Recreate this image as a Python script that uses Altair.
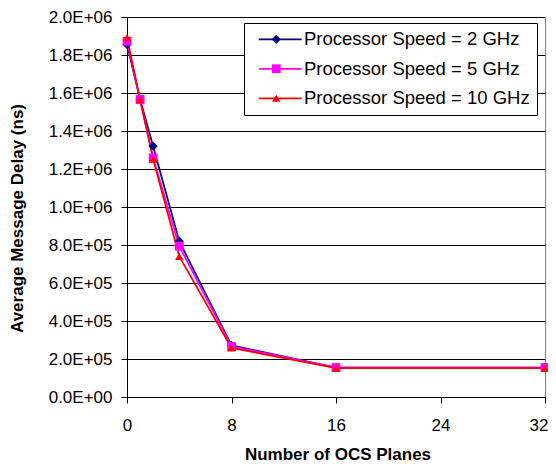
import altair as alt
import pandas as pd

FONT = "Liberation Sans"

planes = [0, 1, 2, 4, 8, 16, 32]
series_names = [
    "Processor Speed = 2 GHz",
    "Processor Speed = 5 GHz",
    "Processor Speed = 10 GHz",
]
delay_2ghz = [1855000, 1567000, 1320000, 820000, 272000, 155000, 155000]
delay_5ghz = [1872000, 1566000, 1258000, 794000, 266000, 155000, 155000]
delay_10ghz = [1892000, 1565000, 1252000, 740000, 258000, 152000, 152000]
x_ticks = [0, 8, 16, 24, 32]
y_ticks = [0, 200000, 400000, 600000, 800000, 1000000, 1200000, 1400000,
           1600000, 1800000, 2000000]

colors = ["#000080", "#FF00FF", "#FF0000"]
shapes = ["diamond", "square", "triangle-up"]
sizes = [85, 70, 120]

# line-legend uses its own (visually identical) labels so it is not merged
line_names = [n + " " for n in series_names]

rows = []
for name, lname, vals in zip(series_names, line_names, [delay_2ghz, delay_5ghz, delay_10ghz]):
    for p, v in zip(planes, vals):
        rows.append({"planes": p, "delay": v, "series": name, "series_l": lname})
df = pd.DataFrame(rows)

x_enc = alt.X(
    "planes:Q",
    scale=alt.Scale(domain=[0, 32], nice=False),
    axis=alt.Axis(
        values=x_ticks, title="Number of OCS Planes", grid=False,
        labelFont=FONT, labelFontSize=17, labelColor="black", labelPadding=14,
        labelAlign={"condition": {"test": "datum.value == 32", "value": "right"}, "value": "center"},
        labelOffset={"condition": {"test": "datum.value == 32", "value": 3}, "value": 0},
        tickSize=6, tickColor="black", domainColor="black",
        titleFont=FONT, titleFontSize=17, titleFontWeight="bold", titleColor="black",
        titleX=210.5, titleY=57, titleBaseline="middle",
    ),
)
y_enc = alt.Y(
    "delay:Q",
    scale=alt.Scale(domain=[0, 2000000], nice=False),
    axis=alt.Axis(
        values=y_ticks, title="Average Message Delay (ns)", grid=True,
        gridColor="black", gridWidth=1, gridOpacity=1,
        labelExpr="datum.value >= 1000000 ? format(datum.value/1000000, '.1f') + 'E+06' : (datum.value > 0 ? format(datum.value/100000, '.1f') + 'E+05' : '0.0E+00')",
        labelFont=FONT, labelFontSize=17, labelColor="black", labelPadding=9,
        tickSize=6, tickColor="black", domainColor="black",
        titleFont=FONT, titleFontSize=17, titleFontWeight="bold", titleColor="black",
        titleX=-109.5, titleY=201, titleBaseline="middle",
    ),
)

common = dict(orient="none", legendX=117, legendY=6, title=None, labelFont=FONT,
              labelFontSize=18.5, labelColor="black", padding=7, rowPadding=10.5,
              labelLimit=400)
line_legend = alt.Legend(**common, symbolType="M-4.3,0H4.3", symbolSize=100,
                         symbolStrokeWidth=1.75, symbolOffset=20, labelOffset=14.5,
                         strokeColor="black", fillColor="white")
point_legend = alt.Legend(**common, labelExpr="' '", symbolStrokeWidth=0,
                          symbolOffset=16, labelOffset=3)

lines = alt.Chart(df).mark_line(strokeWidth=1.75).encode(
    x=x_enc, y=y_enc,
    color=alt.Color("series_l:N", scale=alt.Scale(domain=line_names, range=colors),
                    legend=line_legend),
)
points = alt.Chart(df).mark_point(filled=True, opacity=1).encode(
    x=x_enc, y=y_enc,
    fill=alt.Fill("series:N", scale=alt.Scale(domain=series_names, range=colors),
                  legend=point_legend),
    shape=alt.Shape("series:N", scale=alt.Scale(domain=series_names, range=shapes),
                    legend=point_legend),
    size=alt.Size("series:N", scale=alt.Scale(domain=series_names, range=sizes),
                  legend=point_legend),
)

chart = alt.layer(lines, points).properties(
    width=418, height=380,
    autosize=alt.AutoSizeParams(type="none"),
    padding={"left": 119, "top": 9, "right": 3, "bottom": 67},
    background="white",
).configure_view(stroke="#808080", strokeWidth=1)

chart.save("out.html", embed_options={"renderer": "svg", "actions": False})
